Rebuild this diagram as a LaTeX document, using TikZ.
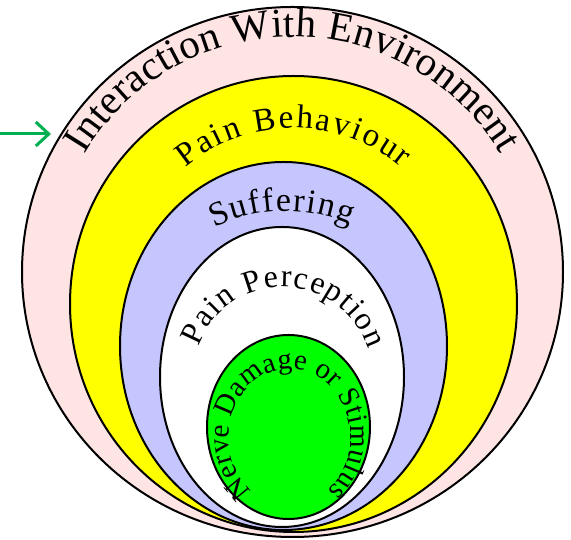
\documentclass[tikz,border=0pt]{standalone}
\usepackage{fontspec}
\setmainfont{Liberation Serif}
\usetikzlibrary{decorations.text,arrows.meta}
\definecolor{pinkfill}{RGB}{255,228,228}
\definecolor{yellowfill}{RGB}{255,255,0}
\definecolor{lavfill}{RGB}{198,198,255}
\definecolor{greenfill}{RGB}{0,255,0}
\definecolor{arrowgreen}{RGB}{0,176,80}
\newcommand\fA{\fontsize{41}{44}\selectfont}
\newcommand\fB{\fontsize{33}{36}\selectfont}
\newcommand\fC{\fontsize{34}{37}\selectfont}
\newcommand\fD{\fontsize{32}{35}\selectfont}
\newcommand\fE{\fontsize{29}{32}\selectfont}
\tikzset{
  ring/.style={draw=black, line width=2pt},
  curvedtext/.style={decorate, decoration={text along path, text={#1}, text align=fit to path}},
  pointer/.style={draw=arrowgreen, line width=3pt, -{Straight Barb[length=13pt,width=24pt]}},
}
\begin{document}
\begin{tikzpicture}[x=1pt,y=1pt]
\useasboundingbox (0,0) rectangle (571,540);
% nested ellipses
\path[ring, fill=pinkfill]   (292.5,268) ellipse [x radius=270.5, y radius=265];
\path[ring, fill=yellowfill] (293.5,236) ellipse [x radius=223.5, y radius=228];
\path[ring, fill=lavfill]    (283.5,194) ellipse [x radius=163.5, y radius=184];
\path[ring, fill=white]      (282,163)   ellipse [x radius=122, y radius=150];
\path[ring, fill=greenfill]  (288.5,113) ellipse [x radius=81.5, y radius=92];
% curved labels
\path[curvedtext={|\fA|Interaction With Environment}]
  (292.5,268) ++(150:240 and 235) arc[start angle=150, end angle=30, x radius=240, y radius=235];
\path[curvedtext={|\fB|Pain Behaviour}]
  (293.5,236) ++(129:171.5 and 176) arc[start angle=129, end angle=51, x radius=171.5, y radius=176];
\path[curvedtext={|\fC|Suffering}]
  (286,165) ++(116:164 and 164) arc[start angle=116, end angle=67, x radius=164, y radius=164];
\path[curvedtext={|\fD|Pain Perception}]
  (283,163) ++(160:90 and 90) arc[start angle=160, end angle=18, x radius=90, y radius=90];
\path[curvedtext={|\fE|Nerve Damage or Stimulus}]
  (289.5,103) ++(232:61 and 68) arc[start angle=232, end angle=-52, x radius=61, y radius=68];
% arrow
\coordinate (arrowtail) at (0,406);
\coordinate (arrowtip) at (51,406);
\draw[pointer] (arrowtail) -- (arrowtip);
\end{tikzpicture}
\end{document}
